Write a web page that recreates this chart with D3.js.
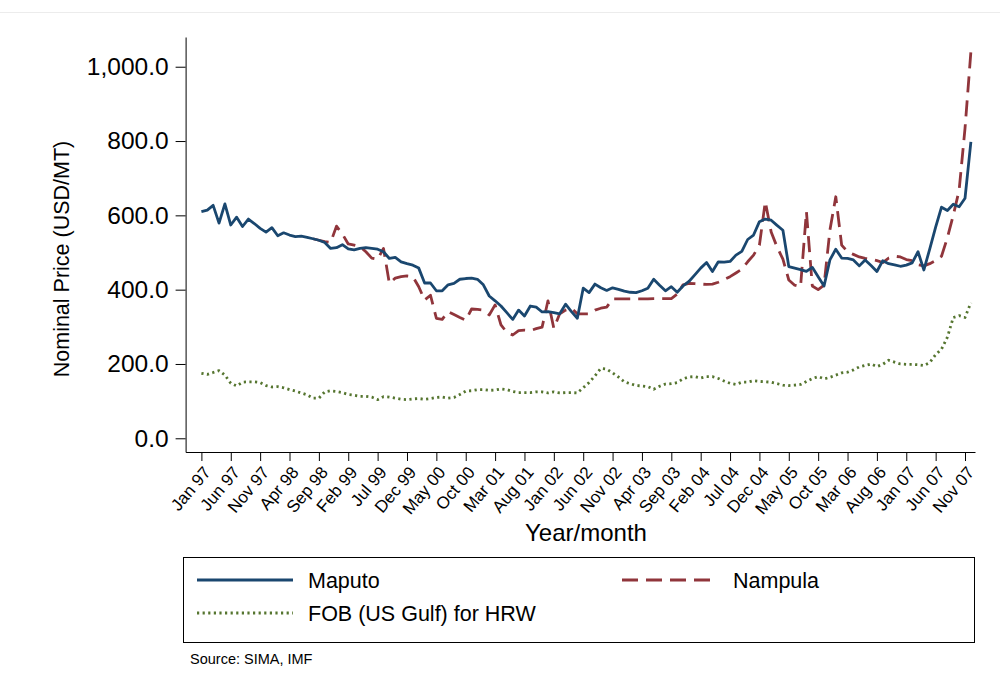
<!DOCTYPE html>
<html>
<head>
<meta charset="utf-8">
<script src="https://cdn.jsdelivr.net/npm/d3@7"></script>
<style>
  body { margin: 0; background: #fff; }
  svg { font-family: "Liberation Sans", Arial, sans-serif; }
</style>
</head>
<body>
<svg id="chart" width="1000" height="691"></svg>
<script>
// monthly prices, Jan 1997 .. Dec 2007 (one row per year)
const maputo = [
  610, 614, 627, 579, 631, 574, 595, 570, 590, 578, 565, 555,
  567, 545, 553, 547, 543, 544, 541, 537, 533, 527, 511, 513,
  521, 510, 507, 511, 513, 511, 509, 502, 484, 487, 475, 470,
  466, 458, 418, 418, 397, 397, 413, 417, 428, 430, 431, 428,
  413, 383, 370, 356, 338, 320, 345, 329, 356, 353, 340, 341,
  338, 335, 361, 341, 323, 404, 392, 415, 405, 398, 405, 401,
  396, 393, 392, 397, 404, 428, 412, 397, 408, 393, 410, 422,
  440, 458, 473, 449, 475, 474, 476, 493, 503, 535, 547, 583,
  590, 587, 573, 560, 462, 458, 454, 449, 460, 435, 410, 480,
  509, 485, 484, 480, 464, 480, 465, 449, 478, 470, 467, 463,
  466, 472, 502, 453, 510, 568, 622, 613, 630, 623, 646, 798
];
const nampula = [
  null, null, null, null, null, null, null, null, null, null, null, null,
  null, null, null, null, null, null, null, 537, 533, 529, 527, 571,
  550, 523, 520, 516, 502, 485, 482, 511, 417, 431, 435, 437,
  435, 408, 372, 385, 323, 320, 341, 333, 325, 318, 348, 347,
  345, 332, 359, 305, 285, 278, 290, 291, 290, 295, 299, 370,
  296, 335, 345, 350, 335, 335, 335, 345, 350, 353, 375, 375,
  375, 375, 375, 375, 375, 376, 376, 376, 376, 388, 413, 417,
  416, 415, 414, 415, 420, 427, 435, 445, 455, 475, 493, 520,
  637, 555, 515, 482, 426, 412, 408, 610, 410, 400, 412, 560,
  650, 520, 502, 495, 488, 484, 482, 478, 473, 485, 490, 488,
  481, 478, 467, 464, 470, 478, 490, 540, 600, 668, 834, 1040
];
const fobGulf = [
  175, 172, 177, 182, 170, 148, 141, 151, 152, 152, 150, 142,
  138, 139, 136, 131, 127, 122, 117, 108, 108, 125, 128, 126,
  123, 118, 116, 113, 113, 111, 104, 112, 111, 108, 105, 104,
  106, 107, 105, 107, 110, 111, 108, 110, 118, 127, 128, 131,
  131, 129, 130, 133, 131, 126, 123, 123, 123, 125, 125, 122,
  125, 122, 123, 123, 122, 136, 150, 168, 188, 186, 176, 165,
  152, 147, 142, 141, 139, 132, 140, 146, 147, 150, 160, 165,
  166, 162, 166, 166, 161, 154, 148, 145, 151, 151, 155, 153,
  152, 151, 147, 143, 142, 143, 145, 153, 161, 166, 160, 164,
  170, 176, 178, 184, 192, 196, 200, 193, 199, 210, 205, 200,
  199, 199, 198, 196, 204, 225, 240, 272, 325, 330, 325, 365
];

const xTickLabels = ["Jan 97", "Jun 97", "Nov 97", "Apr 98", "Sep 98", "Feb 99", "Jul 99",
  "Dec 99", "May 00", "Oct 00", "Mar 01", "Aug 01", "Jan 02", "Jun 02", "Nov 02",
  "Apr 03", "Sep 03", "Feb 04", "Jul 04", "Dec 04", "May 05", "Oct 05", "Mar 06",
  "Aug 06", "Jan 07", "Jun 07", "Nov 07"];
const yTicks = [0, 200, 400, 600, 800, 1000];

const seriesNames = ["Maputo", "Nampula", "FOB (US Gulf) for HRW"];

const svg = d3.select("#chart");

// faint frame line at the top of the graph region
svg.append("line")
    .attr("x1", 0).attr("x2", 1000)
    .attr("y1", 12.5).attr("y2", 12.5)
    .attr("stroke", "#ececec");

const x = d3.scaleLinear().domain([-2.69, 131.7]).range([185.6, 975]);
const y = d3.scaleLinear().domain([-36.9, 1080]).range([452, 37]);

// y axis
const yAxis = svg.append("g")
    .attr("transform", "translate(185.6,0)")
    .call(d3.axisLeft(y).tickValues(yTicks).tickFormat(d3.format(",.1f"))
        .tickSize(10).tickSizeOuter(0).tickPadding(7));
yAxis.selectAll("text")
    .style("font-size", "24.5px")
    .attr("fill", "#000");

// x axis
const xAxis = svg.append("g")
    .attr("transform", "translate(0,452)")
    .call(d3.axisBottom(x).tickValues(d3.range(0, 131, 5))
        .tickFormat((d, i) => xTickLabels[i])
        .tickSize(9).tickSizeOuter(0));
xAxis.selectAll("text")
    .style("font-size", "17px")
    .attr("fill", "#000")
    .attr("text-anchor", "end")
    .attr("x", 0).attr("y", 0).attr("dy", "0.35em")
    .attr("transform", "translate(5,17) rotate(-50)");

svg.selectAll(".domain, .tick line").attr("stroke", "#000");

// axis titles
svg.append("text")
    .attr("transform", "translate(69,259) rotate(-90)")
    .attr("text-anchor", "middle")
    .style("font-size", "21.5px")
    .text("Nominal Price (USD/MT)");

svg.append("text")
    .attr("x", 586).attr("y", 541)
    .attr("text-anchor", "middle")
    .style("font-size", "24px")
    .text("Year/month");

// lines
const months = d3.range(maputo.length);
const line = d3.line()
    .x(d => x(d.i))
    .y(d => y(d.v))
    .defined(d => d.v != null);

const series = [
  { name: seriesNames[0], values: maputo, color: "#1a476f", dash: null, width: 2.8 },
  { name: seriesNames[1], values: nampula, color: "#90353b", dash: "16,8", width: 2.8 },
  { name: seriesNames[2], values: fobGulf, color: "#55752f", dash: "2.2,3.4", width: 2.8 }
];

// draw FOB first, then Nampula, then Maputo on top
[series[2], series[1], series[0]].forEach(s => {
  svg.append("path")
      .datum(months.map(i => ({ i: i, v: s.values[i] })))
      .attr("fill", "none")
      .attr("stroke", s.color)
      .attr("stroke-width", s.width)
      .attr("stroke-linejoin", "round")
      .attr("stroke-dasharray", s.dash)
      .attr("d", line);
});

// legend
const legend = svg.append("g");
legend.append("rect")
    .attr("x", 183.5).attr("y", 557.5)
    .attr("width", 791).attr("height", 85)
    .attr("fill", "#fff")
    .attr("stroke", "#000");

const legendPos = [
  { x: 197, y: 580 },
  { x: 622, y: 580 },
  { x: 197, y: 613 }
];
series.forEach((s, k) => {
  const p = legendPos[k];
  legend.append("line")
      .attr("x1", p.x).attr("x2", p.x + 96)
      .attr("y1", p.y).attr("y2", p.y)
      .attr("stroke", s.color)
      .attr("stroke-width", s.width)
      .attr("stroke-dasharray", s.dash);
  legend.append("text")
      .attr("x", p.x + 111).attr("y", p.y + 8)
      .style("font-size", "21.5px")
      .text(s.name);
});

svg.append("text")
    .attr("x", 190).attr("y", 664)
    .style("font-size", "14.5px")
    .text("Source: SIMA, IMF");
</script>
</body>
</html>
